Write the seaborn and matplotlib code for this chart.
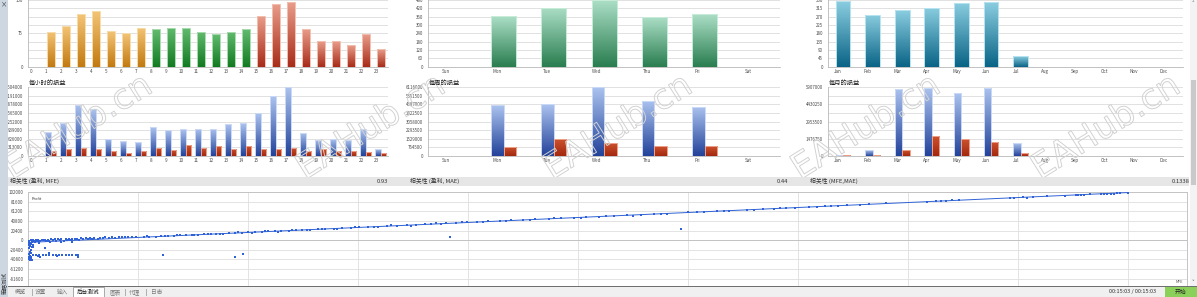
import numpy as np
import pandas as pd
import matplotlib
matplotlib.use("Agg")
import matplotlib.pyplot as plt
import seaborn as sns
import matplotlib.patheffects as pe
from matplotlib.colors import LinearSegmentedColormap, to_rgb
from matplotlib.patches import Rectangle
from matplotlib.ticker import FuncFormatter, MultipleLocator

# ---------------- data ----------------
hours = [str(h) for h in range(24)]
hour_counts = [0, 79, 91, 118, 125, 80, 76, 88, 84, 88, 87, 79, 74, 79, 84,
               114, 141, 145, 84, 58, 57, 49, 74, 40]
hour_session = ["none"] + ["asia"] * 7 + ["europe"] * 7 + ["america"] * 9

weekdays = ["Sun", "Mon", "Tue", "Wed", "Thu", "Fri", "Sat"]
week_counts = [0, 367, 425, 480, 355, 377, 0]

months = ["Jan", "Feb", "Mar", "Apr", "May", "Jun", "Jul", "Aug", "Sep", "Oct", "Nov", "Dec"]
month_counts = [355, 281, 306, 319, 346, 349, 56, 0, 0, 0, 0, 0]

hour_profit = [0, 880000, 1210000, 1870000, 1700000, 624000, 538000, 501000, 1039000,
               941000, 978000, 990000, 990000, 1149000, 1198000, 1565000, 2176000,
               2504000, 843000, 587000, 599000, 575000, 978000, 245000]
hour_loss = [0, 159000, 232000, 293000, 232000, 171000, 110000, 183000, 293000, 196000,
             391000, 269000, 355000, 257000, 367000, 257000, 257000, 293000, 171000,
             232000, 171000, 171000, 147000, 98000]

week_profit = [0, 4539000, 4599000, 6116000, 4927000, 4390000, 0]
week_loss = [0, 806000, 1463000, 1105000, 866000, 866000, 0]

month_profit = [30000, 461000, 5792000, 5878000, 5388000, 5878000, 1095000, 0, 0, 0, 0, 0]
month_loss = [20000, 58000, 461000, 1700000, 1441000, 1181000, 230000, 0, 0, 0, 0, 0]

corr_labels = ["相关性 (盈利, MFE)", "相关性 (盈利, MAE)", "相关性 (MFE,MAE)"]
corr_values = ["0.93", "0.44", "0.1338"]
pl_titles = ["每小时的损益", "每周的损益", "每月的损益"]
tab_labels = ["概览", "设置", "输入", "后台测试", "图表", "代理", "日志"]

# scatter: MFE vs Profit (thousands)
mfe_k = [
    0.1, 0.2, 0.3, 0.4, 0.5, 0.6, 0.7, 0.8, 0.9, 1.0, 1.1, 1.2, 1.3, 1.5, 1.6, 1.8, 1.9, 2.1,
    2.2, 2.4, 2.5, 2.7, 2.9, 3.0, 3.2, 3.4, 3.5, 3.7, 3.9, 4.0, 4.2, 4.4, 4.6, 4.8, 5.0, 5.2,
    5.4, 5.6, 5.8, 6.0, 6.3, 6.5, 6.8, 7.0, 7.3, 7.6, 7.9, 8.2, 8.5, 8.8, 9.1, 9.4, 9.8,
    0.3, 1.0, 2.0, 3.0, 4.0, 0.15, 0.25,
    0.05, 0.1, 0.15, 0.08, 0.2, 0.12, 0.25, 0.1, 0.18, 0.22, 0.05, 0.3, 0.15, 0.4, 0.35, 0.1, 0.2,
    0.4, 0.7, 1.0, 1.3, 1.6, 1.9, 2.2, 2.5, 2.8, 3.1, 3.4, 3.7, 4.0, 4.3, 4.55, 1.06, 4.55,
    1.9, 2.6, 0.9,
    1.5, 0.45, 12.2, 18.8, 19.5, 38.3, 59.3, 37.1,
    10.5, 11.0, 11.6, 12.1, 12.7, 13.2, 13.8, 14.3, 14.9, 15.4, 16.0, 16.6, 17.1, 17.7, 18.2,
    18.8, 19.4, 20.0, 20.6, 21.2, 21.8, 22.4, 23.0, 23.7, 24.3, 24.9, 25.6, 26.3, 27.0, 27.8,
    28.5, 29.3, 30.1, 30.9, 31.8, 32.6, 33.5, 34.4, 35.2, 36.1, 38.0, 38.9, 39.9, 40.8, 41.8,
    42.9, 43.9, 45.0, 46.1, 47.3, 48.4, 49.6, 50.7, 51.9, 53.2, 54.4, 55.7, 56.9, 58.1, 60.0,
    60.8, 61.4, 62.6, 63.2, 63.7, 65.3, 66.0, 66.8, 67.8, 68.3, 68.9, 69.7, 71.0, 71.7, 72.4,
    73.0, 73.6, 74.4, 75.6, 76.4, 78.0, 81.7, 82.5, 83.0, 83.4, 84.0, 84.6, 89.2, 89.6, 90.4,
    90.8, 91.3, 92.6, 94.2, 95.2, 95.4, 95.7, 96.0, 96.5, 97.5, 97.8, 98.1, 98.4, 98.7, 99.0,
    99.2, 100.0,
    10.8, 12.4, 13.5, 15.1, 16.3, 17.4, 19.1, 20.3, 21.5, 22.7, 24.0, 25.3, 26.7, 28.1, 29.7,
    31.4, 33.0, 34.8, 36.6, 37.5, 39.4, 41.3, 43.4, 45.6, 47.8, 50.2, 52.5, 55.0, 57.5,
]
profit_k = [
    -1.0, 0.5, -2.0, 0.2, -0.5, -3.0, 0.4, -1.5, 0.6, -0.8, -2.5, 0.9, -0.3, 1.2, -1.8, 1.5, -0.6, 1.8,
    0.2, 2.0, -1.2, 2.3, 0.8, 2.6, -0.5, 3.0, 1.4, 3.2, 0.3, 3.5, 2.0, 3.8, 1.1, 4.2, 2.6, 4.5,
    3.0, 4.8, 2.2, 5.1, 3.8, 5.6, 4.4, 6.0, 4.9, 6.4, 5.5, 6.9, 6.1, 7.4, 6.6, 7.9, 7.2,
    -4.5, -5.0, -4.2, -3.8, -3.0, -6.5, -7.5,
    -5.0, -9.0, -13.0, -17.0, -20.0, -24.0, -27.0, -30.0, -33.0, -36.0, -39.0, -41.0, -42.5, -11.0, -15.0, -34.5, -38.0,
    -31.0, -30.5, -31.5, -30.8, -31.2, -30.4, -31.6, -30.9, -31.3, -30.7, -31.1, -30.6, -31.4, -30.9, -31.0, -36.1, -36.1,
    -26.3, -32.5, -33.0,
    -17.0, -14.0, -30.6, -36.1, -29.8, 6.4, 24.6, 37.4,
    6.7, 7.4, 7.7, 8.6, 9.0, 9.6, 10.3, 10.4, 11.5, 11.7, 12.6, 12.9, 13.8, 14.1, 15.0,
    15.3, 16.3, 16.6, 17.6, 17.8, 18.9, 19.2, 20.4, 20.7, 21.5, 21.9, 22.9, 23.4, 24.3, 24.8,
    25.8, 26.4, 27.6, 28.1, 29.3, 29.9, 31.3, 31.7, 33.0, 33.6, 35.9, 36.4, 37.9, 38.5, 40.0,
    40.6, 42.2, 42.9, 44.6, 45.3, 46.9, 47.7, 49.4, 50.2, 51.6, 53.4, 54.2, 55.9, 56.9, 59.3,
    59.7, 61.0, 61.6, 63.0, 62.8, 64.8, 65.2, 66.6, 67.0, 68.2, 67.9, 69.6, 70.5, 71.2, 72.5,
    72.9, 73.0, 74.5, 75.5, 76.7, 78.4, 82.0, 82.7, 84.0, 83.1, 84.6, 84.7, 90.0, 90.3, 91.7,
    90.9, 91.6, 93.6, 94.5, 95.7, 96.3, 96.0, 96.8, 97.8, 98.2, 98.9, 98.6, 99.3, 99.0, 99.8,
    99.6, 101.5,
    8.6, 8.1, 11.2, 10.9, 13.9, 12.9, 17.0, 15.8, 19.1, 18.6, 22.1, 21.6, 24.6, 24.2, 27.8,
    28.0, 31.6, 31.4, 35.0, 34.0, 38.1, 38.6, 42.0, 43.0, 46.8, 47.6, 51.8, 52.4, 56.9,
]
trend_mfe = [0, 100000]
trend_profit = [-4500, 101500]

# ---------------- style ----------------
sns.set_theme(style="white")
plt.rcParams["font.family"] = ["Noto Sans CJK SC", "DejaVu Sans"]
plt.rcParams["axes.unicode_minus"] = False

W, H = 1197, 297
fig = plt.figure(figsize=(W / 100, H / 100), dpi=100)
fig.patch.set_facecolor("white")


def fx(x):
    return x / W


def fy(y):
    return 1 - y / H


def add_ax(l, t, r, b, z=1):
    ax = fig.add_axes([fx(l), fy(b), (r - l) / W, (b - t) / H])
    ax.set_zorder(z)
    return ax


def frect(l, t, r, b, color, z, ec="none", lw=0):
    fig.patches.append(Rectangle((fx(l), fy(b)), (r - l) / W, (b - t) / H,
                                 transform=fig.transFigure, facecolor=color,
                                 edgecolor=ec, linewidth=lw, zorder=z))


def ftext(x, y, s, size=4.2, color="#333333", ha="left", va="center", z=20, **kw):
    fig.text(fx(x), fy(y), s, fontsize=size, color=color, ha=ha, va=va, zorder=z, **kw)


def gradient_patch(ax, p, top, bottom, edge):
    h = p.get_height()
    if not np.isfinite(h) or h <= 0:
        p.set_visible(False)
        return
    cmap = LinearSegmentedColormap.from_list("g", [bottom, top])
    grad = np.linspace(0, 1, 64).reshape(-1, 1)
    x0, w = p.get_x(), p.get_width()
    im = ax.imshow(grad, extent=[x0, x0 + w, 0, h], origin="lower", aspect="auto",
                   cmap=cmap, zorder=2, interpolation="bilinear")
    im.set_clip_path(p)
    p.set_facecolor("none")
    p.set_edgecolor(edge)
    p.set_linewidth(0.7)
    p.set_zorder(3)


def style_axes(ax):
    for s in ["top", "right"]:
        ax.spines[s].set_visible(False)
    for s in ["left", "bottom"]:
        ax.spines[s].set_color("#b8b8b8")
        ax.spines[s].set_linewidth(0.6)
    ax.set_facecolor("none")
    ax.tick_params(axis="both", which="both", labelsize=3.2, labelcolor="#4a4a4a", length=0)
    ax.tick_params(axis="y", pad=3.8)
    ax.tick_params(axis="x", pad=1.6, labelsize=3.3)
    ax.set_xlabel("")
    ax.set_ylabel("")
    ax.set_axisbelow(True)


def cat_ticks(ax, labels, offset, seps=False):
    n = len(labels)
    ax.set_xticks(np.arange(n) + offset, labels=labels)
    ax.set_xlim(-0.5, n - 0.5)
    if seps:
        ax.set_xticks(np.arange(1, n) - 0.5, minor=True)
        ax.tick_params(axis="x", which="minor", length=3, color="#c8c8c8", width=0.5)


def y_grid(ax, ymax, major, minor):
    ax.set_ylim(0, ymax)
    ax.yaxis.set_major_locator(MultipleLocator(major))
    ax.yaxis.set_minor_locator(MultipleLocator(minor))
    ax.yaxis.set_major_formatter(FuncFormatter(lambda v, p: f"{int(round(v))}"))
    ax.grid(axis="y", which="both", color="#dcdcdc", lw=0.6)
    ax.grid(axis="x", visible=False)


SESSION_COLORS = {
    "asia": ("#f3c476", "#c27a12", "#f8dca8"),
    "europe": ("#62bb6e", "#137a22", "#a8dcb0"),
    "america": ("#e99c8a", "#a82c1a", "#f2c0b0"),
    "none": ("#ffffff", "#ffffff", "#ffffff"),
}
WEEK_COL = ("#abdec6", "#2a7e50", "#c8ecd8")
MONTH_COL = ("#8acde0", "#0a6486", "#b8e4f0")
BLUE = "#3050a0"
RED = "#b83a1e"
BLUE_COL = ("#abc3ef", "#23439a", "#cbd9f5")
RED_COL = ("#cb522e", "#a3280f", "#eea088")

# ---------------- row 1: counts ----------------
ax1 = add_ax(28.3, 0, 388.3, 66.7)
sns.barplot(x=hours, y=hour_counts, ax=ax1, width=0.5, color="#888888", saturation=1, errorbar=None)
for p, sess in zip(ax1.patches, hour_session):
    gradient_patch(ax1, p, *SESSION_COLORS[sess])
style_axes(ax1)
y_grid(ax1, 150, 75, 18.75)
cat_ticks(ax1, hours, -0.3)

ax2 = add_ax(428.3, 0, 780, 66.7)
sns.barplot(x=weekdays, y=week_counts, ax=ax2, width=0.5, color="#888888", saturation=1, errorbar=None)
for p in ax2.patches:
    gradient_patch(ax2, p, *WEEK_COL)
style_axes(ax2)
y_grid(ax2, 480, 60, 60)
cat_ticks(ax2, weekdays, -0.14, seps=True)

ax3 = add_ax(828.3, 0, 1183.3, 66.7)
sns.barplot(x=months, y=month_counts, ax=ax3, width=0.5, color="#888888", saturation=1, errorbar=None)
for p in ax3.patches:
    gradient_patch(ax3, p, *MONTH_COL)
style_axes(ax3)
y_grid(ax3, 360, 45, 45)
cat_ticks(ax3, months, -0.17, seps=True)


# ---------------- row 2: profit / loss ----------------
def pl_chart(ax, cats, profit, loss, width):
    n = len(cats)
    df = pd.DataFrame({"cat": cats * 2, "val": profit + loss,
                       "kind": ["盈利"] * n + ["亏损"] * n})
    sns.barplot(data=df, x="cat", y="val", hue="kind", order=cats, hue_order=["盈利", "亏损"],
                palette={"盈利": BLUE, "亏损": RED}, width=width, dodge=True, saturation=1,
                errorbar=None, legend=False, ax=ax)
    for p in list(ax.patches):
        fc = p.get_facecolor()[:3]
        if np.allclose(fc, to_rgb(BLUE), atol=0.03):
            gradient_patch(ax, p, *BLUE_COL)
        else:
            gradient_patch(ax, p, *RED_COL)


ax4 = add_ax(28.3, 87.3, 388.3, 155.7)
pl_chart(ax4, hours, hour_profit, hour_loss, 0.75)
style_axes(ax4)
y_grid(ax4, 2504000, 313000, 313000)
cat_ticks(ax4, hours, -0.3)

ax5 = add_ax(428.3, 87.3, 780, 155.7)
pl_chart(ax5, weekdays, week_profit, week_loss, 0.5)
style_axes(ax5)
y_grid(ax5, 6116000, 764500, 764500)
cat_ticks(ax5, weekdays, -0.14, seps=True)

ax6 = add_ax(828.3, 87.3, 1183.3, 155.7)
pl_chart(ax6, months, month_profit, month_loss, 0.5)
style_axes(ax6)
y_grid(ax6, 5907000, 1476750, 738375)
cat_ticks(ax6, months, -0.17, seps=True)

for x, t in zip([28.3, 428.3, 828.3], pl_titles):
    ftext(x, 83.2, t, size=4.5, color="#222222", z=6)

# ---------------- watermarks ----------------
for x0 in [12, 305, 552, 800, 1040]:
    fig.text(fx(x0), fy(180), "EAHub.cn", rotation=32, rotation_mode="anchor",
             fontsize=25, color=(1, 1, 1, 0), ha="left", va="baseline", zorder=5,
             family="DejaVu Sans",
             path_effects=[pe.Stroke(linewidth=0.7, foreground="#d2d2d2")])

# ---------------- row 3 ----------------
frect(7.5, 176.5, 1197, 297, "white", 9)
frect(7.5, 176.5, 1189, 186, "#e6e6e6", 10)
for lx, rx, lab, val in zip([10, 410, 810], [388.5, 788.5, 1190], corr_labels, corr_values):
    ftext(lx, 181.3, lab, size=4.2, color="#333333", z=12)
    ftext(rx, 181.3, val, size=4.2, color="#333333", ha="right", z=12)

PT = "#2f62d6"
ax7 = add_ax(28.3, 192.3, 1186.7, 285.7, z=11)
ax7.set_facecolor("white")
sns.lineplot(x=trend_mfe, y=trend_profit, ax=ax7, color=PT, lw=0.7, zorder=4)
sns.scatterplot(x=np.array(mfe_k) * 1000, y=np.array(profit_k) * 1000, ax=ax7, marker="s",
                s=3.4, color=PT, linewidth=0, zorder=3)
ax7.set_xlim(0, 105300)
ax7.set_ylim(-96500, 102000)
ax7.set_yticks(np.arange(-81600, 102001, 20400))
ax7.yaxis.set_major_formatter(FuncFormatter(lambda v, p: f"{int(round(v))}"))
ax7.set_xticks(np.arange(0, 105001, 10000))
ax7.set_xticklabels([])
ax7.grid(True, color="#dedede", lw=0.6)
ax7.axhline(0, color="#bdbdbd", lw=0.6, zorder=1)
ax7.set_axisbelow(True)
for s in ax7.spines.values():
    s.set_color("#c4c4c4")
    s.set_linewidth(0.7)
ax7.tick_params(axis="both", length=0, labelsize=3.2, labelcolor="#4a4a4a", pad=3.5)
ax7.set_xlabel("")
ax7.set_ylabel("")
ax7.text(0.003, 0.955, "Profit", transform=ax7.transAxes, fontsize=2.8, color="#333333",
         ha="left", va="top")
ax7.text(0.997, 0.02, "MFE", transform=ax7.transAxes, fontsize=2.8, color="#555555",
         ha="right", va="bottom")

# ---------------- window chrome ----------------
frect(0, 286.3, 1197, 297, "#f0f0f0", 12)
frect(0, 285.8, 1197, 286.6, "#707070", 13)
frect(73, 286.6, 104, 297, "white", 13, ec="#8a8a8a", lw=0.5)
tab_x = [20.7, 40, 62.7, 88.3, 115, 135, 156.7]
for x, t in zip(tab_x, tab_labels):
    ftext(x, 292, t, size=4.1, color="#111111" if t == "后台测试" else "#7a7a7a", ha="center", z=14)
for x in [32.3, 52.7, 125, 146]:
    frect(x, 289, x + 0.6, 295.5, "#b0b0b0", 14)
ftext(1133, 292, "00:15:03 / 00:15:03", size=4.0, color="#333333", ha="center", z=14)
frect(1165, 286.6, 1197, 297, "#8bd05a", 14)
ftext(1181, 292, "开始", size=4.2, color="#222222", ha="center", z=15)

# right scrollbar
frect(1189.5, 0, 1197, 286, "#f3f3f3", 14)
frect(1190.5, 80, 1196, 185, "#c9c9c9", 15)
ftext(1193.3, 3.5, "˄", size=4, color="#555555", ha="center", z=16)
ftext(1193.3, 282.5, "˅", size=4, color="#555555", ha="center", z=16)

# left strip
frect(0, 0, 7.5, 297, "#cdd7e2", 15)
ftext(3.7, 4, "×", size=4.5, color="#333333", ha="center", z=16)
fig.text(fx(3.7), fy(283.5), "策略测试", rotation=90, fontsize=4.0, color="#333333",
         ha="center", va="center", zorder=16)

fig.savefig("out.png", dpi=100, facecolor="white")
